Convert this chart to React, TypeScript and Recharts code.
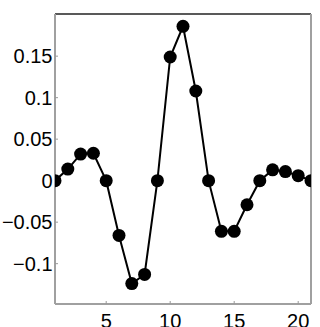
import { LineChart, Line, XAxis, YAxis } from 'recharts'

const xs = [1, 2, 3, 4, 5, 6, 7, 8, 9, 10, 11, 12, 13, 14, 15, 16, 17, 18, 19, 20, 21]
const ys = [0, 0.014, 0.032, 0.033, 0, -0.066, -0.124, -0.113, 0, 0.149, 0.186, 0.108, 0, -0.061, -0.061, -0.029, 0, 0.013, 0.011, 0.006, 0]
const xTicks = [5, 10, 15, 20]
const yTicks = [-0.1, -0.05, 0, 0.05, 0.1, 0.15]

const data = xs.map((x, i) => ({ x, y: ys[i] }))

const fmtY = (v: number) => (v === 0 ? '0' : (v < 0 ? '\u2212' : '') + String(Math.abs(v)))

const font = { fontFamily: 'Liberation Sans, Arial, sans-serif', fontSize: 20, fill: '#000' }
const grey = { stroke: '#a0a0a0', strokeWidth: 2 }

export default function App() {
  return (
    <div style={{ position: 'absolute', left: 0, top: 0, background: '#fff' }}>
      <LineChart width={320} height={327} data={data} margin={{ top: 0, right: 0, bottom: 0, left: 0 }}>
        <XAxis
          xAxisId="b"
          dataKey="x"
          type="number"
          domain={[1, 21]}
          ticks={xTicks}
          allowDataOverflow
          height={23}
          axisLine={grey}
          tickLine={{ stroke: '#999' }}
          tickSize={-3}
          tickMargin={13}
          tick={font}
        />
        <XAxis
          xAxisId="t"
          orientation="top"
          dataKey="x"
          type="number"
          domain={[1, 21]}
          ticks={xTicks}
          allowDataOverflow
          height={14}
          axisLine={{ stroke: '#222', strokeWidth: 1.5 }}
          tickLine={{ stroke: '#999' }}
          tickSize={-3}
          tick={false}
        />
        <YAxis
          yAxisId="l"
          type="number"
          domain={[-0.1486, 0.2008]}
          ticks={yTicks}
          allowDataOverflow
          width={55}
          axisLine={grey}
          tickLine={{ stroke: '#999' }}
          tickSize={-3}
          tickMargin={5.5}
          tick={font}
          tickFormatter={fmtY}
        />
        <YAxis
          yAxisId="r"
          orientation="right"
          type="number"
          domain={[-0.1486, 0.2008]}
          ticks={yTicks}
          allowDataOverflow
          width={9}
          axisLine={grey}
          tickLine={{ stroke: '#999' }}
          tickSize={-3}
          tick={false}
        />
        <Line
          xAxisId="b"
          yAxisId="l"
          dataKey="y"
          type="linear"
          stroke="#000"
          strokeWidth={2}
          dot={{ r: 6.5, fill: '#000', stroke: 'none' }}
          isAnimationActive={false}
        />
      </LineChart>
    </div>
  )
}
